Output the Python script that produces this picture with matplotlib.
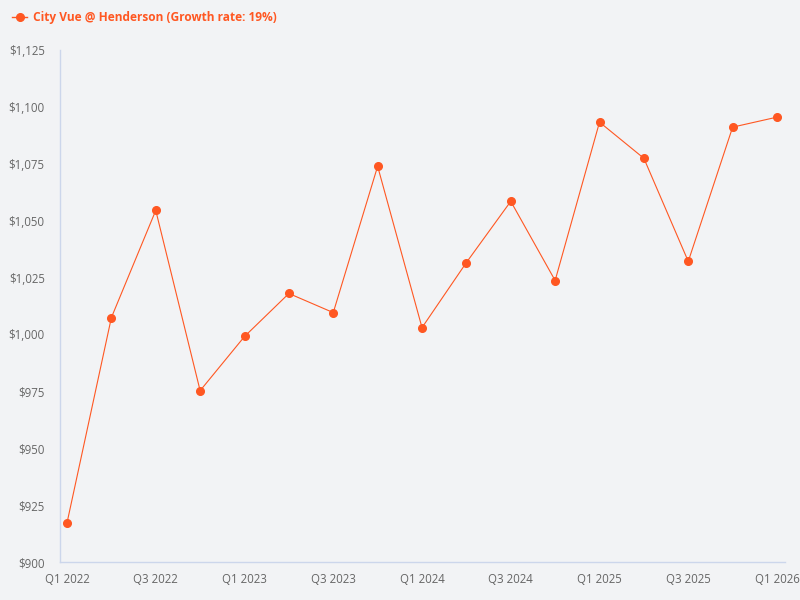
import numpy as np
import matplotlib.pyplot as plt
from matplotlib.lines import Line2D
from matplotlib.ticker import FuncFormatter

plt.rcParams['font.family'] = ['Open Sans', 'DejaVu Sans']

quarters = ["Q1 2022", "Q2 2022", "Q3 2022", "Q4 2022",
            "Q1 2023", "Q2 2023", "Q3 2023", "Q4 2023",
            "Q1 2024", "Q2 2024", "Q3 2024", "Q4 2024",
            "Q1 2025", "Q2 2025", "Q3 2025", "Q4 2025",
            "Q1 2026"]
rents = [917.2, 1007.4, 1054.5, 975.3,
         999.1, 1018.0, 1009.6, 1073.9,
         1003.0, 1031.6, 1058.5, 1023.7,
         1093.3, 1077.4, 1032.1, 1091.1,
         1095.5]
series_name = "City Vue @ Henderson (Growth rate: 19%)"

BG = "#f2f3f5"
LINE = "#ff5722"
AXIS = "#ccd6eb"
TXT = "#666666"

fig = plt.figure(figsize=(8, 6), dpi=100, facecolor=BG)
ax = fig.add_axes([60 / 800, 38 / 600, 725 / 800, 512 / 600])
ax.set_facecolor(BG)

x = np.arange(len(quarters))
ax.plot(x, rents, color=LINE, linewidth=0.8, marker="o", markersize=5.5)

ax.set_xlim(-0.158, 16.18)
ax.set_ylim(900, 1125)
ax.set_yticks(np.arange(900, 1126, 25))
ax.yaxis.set_major_formatter(FuncFormatter(lambda v, p: f"${v:,.0f}"))
ax.set_xticks(x[::2])
ax.set_xticklabels(quarters[::2])

for s in ["top", "right"]:
    ax.spines[s].set_visible(False)
for s in ["left", "bottom"]:
    ax.spines[s].set_color(AXIS)
    ax.spines[s].set_linewidth(1)
ax.tick_params(axis="both", length=0, labelsize=8.3, colors=TXT)
ax.tick_params(axis="y", pad=11)
ax.tick_params(axis="x", pad=8)

handle = Line2D([], [], color=LINE, linewidth=1, marker="o", markersize=5.5)
fig.legend([handle], [series_name], loc="upper left", bbox_to_anchor=(0.002, 0.999),
           frameon=False, handlelength=1.2, handletextpad=0.55,
           prop={"weight": "bold", "size": 8.6}, labelcolor=LINE)

fig.savefig("out.png", dpi=100, facecolor=BG)
